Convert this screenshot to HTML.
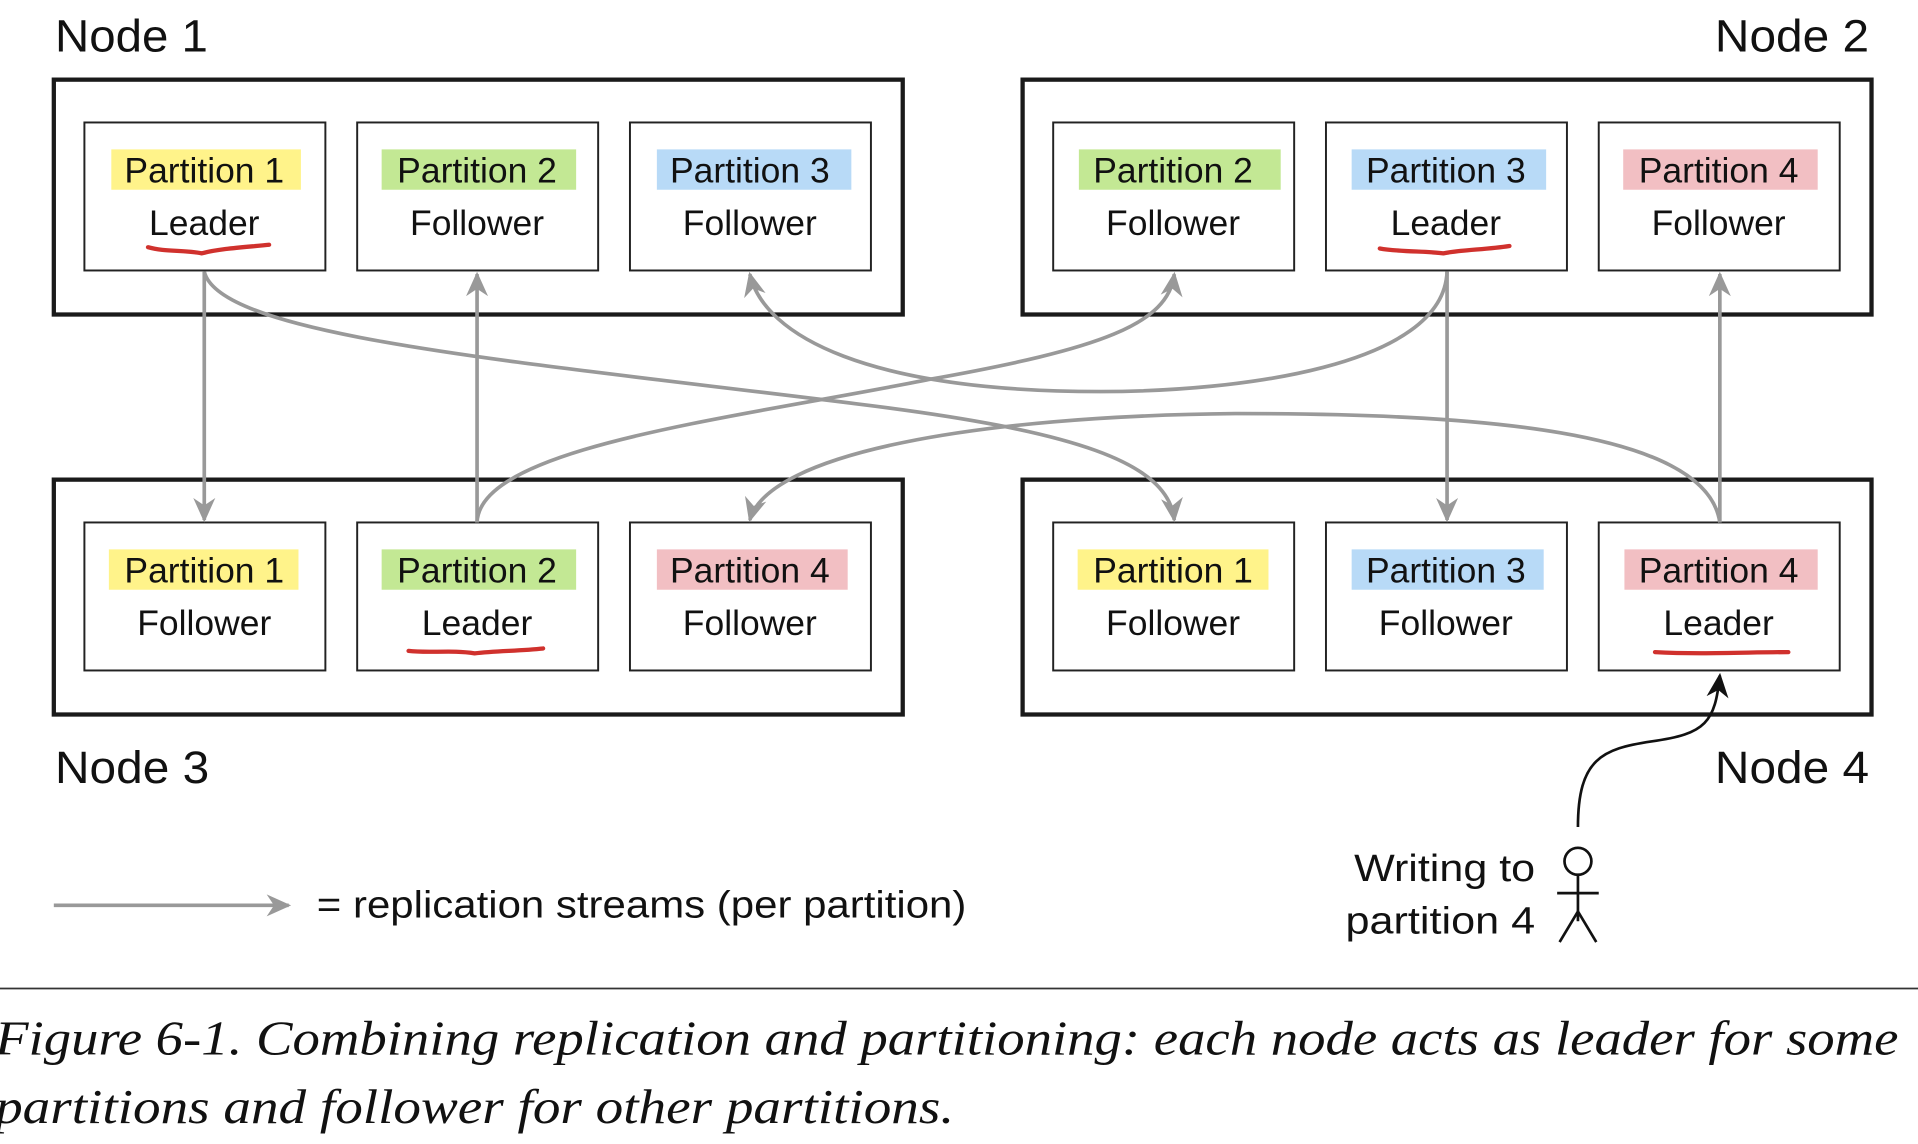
<!DOCTYPE html>
<html><head><meta charset="utf-8"><style>
html,body{margin:0;padding:0;background:#fff;width:1918px;height:1144px;overflow:hidden}
svg{display:block}
text{font-family:"Liberation Sans",sans-serif;fill:#111}
.p{font-size:29px;text-anchor:middle}
.n{font-size:37px}
.cap{font-family:"Liberation Serif",serif;font-style:italic;font-size:40px}
</style></head><body>
<svg width="1918" height="1144" viewBox="0 0 1568 935" xmlns="http://www.w3.org/2000/svg">
<defs>
<marker id="gb" markerWidth="22" markerHeight="20" refX="18" refY="10" orient="auto" markerUnits="userSpaceOnUse"><path d="M0,1 L20,10 L0,19 L6,10 Z" fill="#999"/></marker>
<marker id="kb" markerWidth="22" markerHeight="20" refX="18" refY="10" orient="auto" markerUnits="userSpaceOnUse"><path d="M0,1 L20,10 L0,19 L6,10 Z" fill="#111"/></marker>
</defs>
<g fill="none" stroke="#1a1a1a" stroke-width="3.5">
<rect x="44" y="65" width="694" height="192"/>
<rect x="836" y="65" width="694" height="192"/>
<rect x="44" y="392" width="694" height="192"/>
<rect x="836" y="392" width="694" height="192"/>
</g>
<g fill="none" stroke="#222" stroke-width="1.6">
<rect x="69" y="100" width="197" height="121"/><rect x="292" y="100" width="197" height="121"/><rect x="515" y="100" width="197" height="121"/>
<rect x="861" y="100" width="197" height="121"/><rect x="1084" y="100" width="197" height="121"/><rect x="1307" y="100" width="197" height="121"/>
<rect x="69" y="427" width="197" height="121"/><rect x="292" y="427" width="197" height="121"/><rect x="515" y="427" width="197" height="121"/>
<rect x="861" y="427" width="197" height="121"/><rect x="1084" y="427" width="197" height="121"/><rect x="1307" y="427" width="197" height="121"/>
</g>
<g>
<rect x="91" y="122" width="155" height="33" fill="#fff38a"/>
<rect x="312" y="122" width="159" height="33" fill="#c3e894"/>
<rect x="537" y="122" width="159" height="33" fill="#b8daf7"/>
<rect x="882" y="122" width="165" height="33" fill="#c3e894"/>
<rect x="1105" y="122" width="159" height="33" fill="#b8daf7"/>
<rect x="1327" y="122" width="159" height="33" fill="#f2bfc3"/>
<rect x="89" y="449" width="155" height="33" fill="#fff38a"/>
<rect x="312" y="449" width="159" height="33" fill="#c3e894"/>
<rect x="537" y="449" width="156" height="33" fill="#f2bfc3"/>
<rect x="881" y="449" width="156" height="33" fill="#fff38a"/>
<rect x="1105" y="449" width="157" height="33" fill="#b8daf7"/>
<rect x="1328" y="449" width="158" height="33" fill="#f2bfc3"/>
</g>
<g class="p">
<text class="p" x="167" y="149">Partition 1</text><text class="p" x="167" y="192">Leader</text>
<text class="p" x="390" y="149">Partition 2</text><text class="p" x="390" y="192">Follower</text>
<text class="p" x="613" y="149">Partition 3</text><text class="p" x="613" y="192">Follower</text>
<text class="p" x="959" y="149">Partition 2</text><text class="p" x="959" y="192">Follower</text>
<text class="p" x="1182" y="149">Partition 3</text><text class="p" x="1182" y="192">Leader</text>
<text class="p" x="1405" y="149">Partition 4</text><text class="p" x="1405" y="192">Follower</text>
<text class="p" x="167" y="476">Partition 1</text><text class="p" x="167" y="519">Follower</text>
<text class="p" x="390" y="476">Partition 2</text><text class="p" x="390" y="519">Leader</text>
<text class="p" x="613" y="476">Partition 4</text><text class="p" x="613" y="519">Follower</text>
<text class="p" x="959" y="476">Partition 1</text><text class="p" x="959" y="519">Follower</text>
<text class="p" x="1182" y="476">Partition 3</text><text class="p" x="1182" y="519">Follower</text>
<text class="p" x="1405" y="476">Partition 4</text><text class="p" x="1405" y="519">Leader</text>
</g>
<g fill="none" stroke="#d0312d" stroke-width="3.5" stroke-linecap="round">
<path d="M121,202 C135,206 150,204 165,207 C180,203 200,202 220,200"/>
<path d="M1128,203 C1145,206 1165,205 1180,207 C1195,204 1215,204 1234,201"/>
<path d="M334,532 C350,534 370,531 388,534 C405,532 425,532 444,530"/>
<path d="M1353,533 C1390,535 1430,533 1462,533"/>
</g>
<g fill="none" stroke="#999" stroke-width="3">
<line x1="167" y1="222" x2="167" y2="425" marker-end="url(#gb)"/>
<line x1="390" y1="427" x2="390" y2="224" marker-end="url(#gb)"/>
<line x1="1183" y1="222" x2="1183" y2="425" marker-end="url(#gb)"/>
<line x1="1406" y1="427" x2="1406" y2="224" marker-end="url(#gb)"/>
<path d="M167,222 C180,275 420,295 700,330 C880,352 955,378 960,425" marker-end="url(#gb)"/>
<path d="M390,427 C392,365 600,342 760,310 C900,285 955,265 960,224" marker-end="url(#gb)"/>
<path d="M1183,222 C1180,300 1010,320 900,320 C710,320 625,275 613,224" marker-end="url(#gb)"/>
<path d="M1406,427 C1395,350 1200,338 1010,338 C800,340 628,370 613,425" marker-end="url(#gb)"/>
<line x1="44" y1="740" x2="236" y2="740" marker-end="url(#gb)"/>
</g>
<text x="45" y="42" class="n" textLength="125" lengthAdjust="spacingAndGlyphs">Node 1</text>
<text x="1402" y="42" class="n" textLength="126" lengthAdjust="spacingAndGlyphs">Node 2</text>
<text x="45" y="640" class="n" textLength="126" lengthAdjust="spacingAndGlyphs">Node 3</text>
<text x="1402" y="640" class="n" textLength="126" lengthAdjust="spacingAndGlyphs">Node 4</text>
<text x="259" y="750" style="font-size:31px" textLength="531" lengthAdjust="spacingAndGlyphs">= replication streams (per partition)</text>
<text x="1107" y="720" style="font-size:31px" textLength="148" lengthAdjust="spacingAndGlyphs">Writing to</text>
<text x="1100" y="763" style="font-size:31px" textLength="155" lengthAdjust="spacingAndGlyphs">partition 4</text>
<g fill="none" stroke="#111" stroke-width="2.2">
<circle cx="1290" cy="704" r="11"/>
<line x1="1290" y1="715" x2="1290" y2="753"/>
<line x1="1273" y1="730" x2="1307" y2="730"/>
<path d="M1275,770 L1290,745 L1305,770"/>
<path d="M1290,676 C1290,620 1310,612 1350,606 C1395,600 1402,590 1406,552" marker-end="url(#kb)"/>
</g>
<line x1="0" y1="808" x2="1568" y2="808" stroke="#333" stroke-width="1.5"/>
<text x="-4" y="862" class="cap" textLength="1556" lengthAdjust="spacingAndGlyphs">Figure 6-1. Combining replication and partitioning: each node acts as leader for some</text>
<text x="-4" y="918" class="cap" textLength="784" lengthAdjust="spacingAndGlyphs">partitions and follower for other partitions.</text>
</svg>
</body></html>
